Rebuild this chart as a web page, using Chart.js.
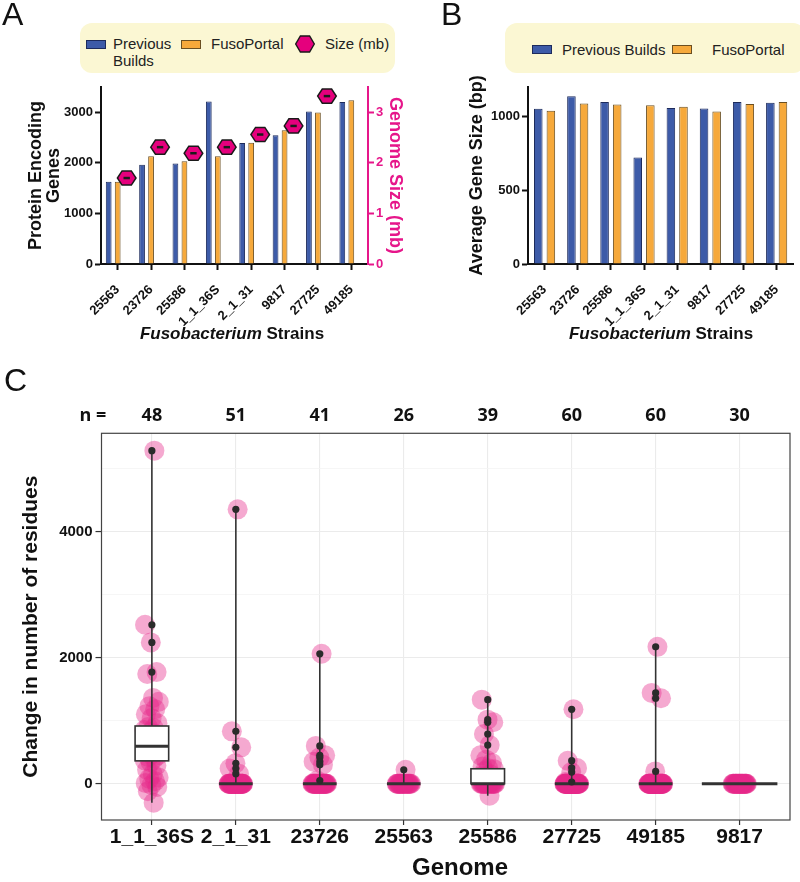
<!DOCTYPE html>
<html>
<head>
<meta charset="utf-8">
<script src="https://cdn.jsdelivr.net/npm/chart.js@4.4.1/dist/chart.umd.min.js"></script>
<style>
body { margin:0; background:#fff; width:800px; height:882px; position:relative; overflow:hidden; font-family:"Liberation Sans", Arial, sans-serif; }
canvas { position:absolute; }
.abs { position:absolute; }
.letter { font-size:32px; line-height:1; color:#111; }
.legend { background:#fbf7d3; border-radius:12px; }
.sw { position:absolute; width:20px; height:9px; box-sizing:border-box; border:1px solid; }
.lt { position:absolute; font-size:15px; line-height:17px; color:#222; white-space:nowrap; }
.xt { position:absolute; font-size:17px; font-weight:bold; line-height:20px; text-align:center; width:300px; color:#111; }
</style>
</head>
<body>
<canvas id="chartA" width="410" height="330" style="left:0;top:0"></canvas>
<canvas id="chartB" width="400" height="330" style="left:400px;top:0"></canvas>
<canvas id="chartC" width="800" height="552" style="left:0;top:330px"></canvas>

<div class="abs letter" style="left:2px;top:-2px">A</div>
<div class="abs letter" style="left:441px;top:-2px">B</div>
<div class="abs letter" style="left:4px;top:364px">C</div>

<!-- legend A -->
<div class="abs legend" style="left:80px;top:23px;width:315px;height:50px"></div>
<div class="sw" style="left:86px;top:39.5px;background:#3d5ba8;border-color:#1d2b5c"></div>
<div class="lt" style="left:113px;top:35px">Previous<br>Builds</div>
<div class="sw" style="left:181px;top:39.5px;background:#f6a93b;border-color:#6a4f22"></div>
<div class="lt" style="left:211px;top:35px">FusoPortal</div>
<svg class="abs" style="left:295px;top:35px" width="20" height="18">
  <polygon points="19.3,9 14.6,17 5.4,17 0.7,9 5.4,1 14.6,1" fill="#e5007d" stroke="#1a1a1a" stroke-width="1.4"/>
</svg>
<div class="lt" style="left:325px;top:35px">Size (mb)</div>

<!-- legend B -->
<div class="abs legend" style="left:505px;top:23px;width:300px;height:50px"></div>
<div class="sw" style="left:532px;top:44.5px;background:#3d5ba8;border-color:#1d2b5c"></div>
<div class="lt" style="left:562px;top:40.5px">Previous Builds</div>
<div class="sw" style="left:672px;top:44.5px;background:#f6a93b;border-color:#6a4f22"></div>
<div class="lt" style="left:712px;top:40.5px">FusoPortal</div>

<div class="xt" style="left:82px;top:324px"><i>Fusobacterium</i> Strains</div>
<div class="xt" style="left:511px;top:324px"><i>Fusobacterium</i> Strains</div>

<script>
// ---- panel A / B data ----
var strains = ['25563', '23726', '25586', '1_1_36S', '2_1_31', '9817', '27725', '49185'];
var proteinPrev = [1625, 1965, 1985, 3215, 2393, 2545, 3018, 3202];
var proteinFuso = [1625, 2130, 2030, 2130, 2400, 2643, 2998, 3240];
var genomeSizeMb = [1.70, 2.31, 2.19, 2.31, 2.56, 2.73, 3.32, null];
var geneSizePrev = [1052, 1138, 1098, 722, 1057, 1055, 1098, 1093];
var geneSizeFuso = [1039, 1088, 1082, 1077, 1066, 1034, 1084, 1098];
var ticksProtein = [0, 1000, 2000, 3000];
var ticksSize = [0, 1, 2, 3];
var ticksGeneSize = [0, 500, 1000];

// ---- panel C data (change in number of residues per gene) ----
var genomes = ['1_1_36S', '2_1_31', '23726', '25563', '25586', '27725', '49185', '9817'];
var res_1_1_36S = [-300, -120, -50, -20, 10, 40, 80, 100, 150, 220, 290, 340,
  370, 400, 420, 450, 470, 500, 520, 540, 555, 570, 580, 585,
  600, 620, 650, 680, 700, 730, 760, 790, 820, 850, 880, 900,
  960, 1040, 1100, 1180, 1230, 1300, 1360, 1740, 1770, 2240, 2520, 5280];
var res_2_1_31 = [4350, 830, 577, 323, 240, 159,
  0,0,0,0,0,0,0,0,0,0,0,0,0,0,0, 0,0,0,0,0,0,0,0,0,0,0,0,0,0,0, 0,0,0,0,0,0,0,0,0,0,0,0,0,0,0];
var res_23726 = [2060, 600, 450, 415, 350, 300, 50,
  0,0,0,0,0,0,0,0,0,0,0,0,0,0,0,0,0, 0,0,0,0,0,0,0,0,0,0,0,0,0,0,0,0,0];
var res_25563 = [220, 0,0,0,0,0,0,0,0,0,0,0,0,0, 0,0,0,0,0,0,0,0,0,0,0,0];
var res_25586 = [-190, 0,0,0,0,0,0,0,0,0,0, 0,0,0,0,0,0,0,0,0,0,
  20, 40, 60, 80, 120, 150, 200, 230, 245, 275, 330, 381, 450, 612, 788, 974, 1016, 1333];
var res_27725 = [1180, 365, 250, 185, 27,
  0,0,0,0,0,0,0,0,0,0,0, 0,0,0,0,0,0,0,0,0,0,0, 0,0,0,0,0,0,0,0,0,0,0,
  0,0,0,0,0,0,0,0,0,0,0, 0,0,0,0,0,0,0,0,0,0,0];
var res_49185 = [2170, 1440, 1355, 195,
  0,0,0,0,0,0,0,0,0,0,0,0,0,0, 0,0,0,0,0,0,0,0,0,0,0,0,0,0,
  0,0,0,0,0,0,0,0,0,0,0,0,0,0, 0,0,0,0,0,0,0,0,0,0,0,0,0,0];
var res_9817 = [0,0,0,0,0,0,0,0,0,0,0,0,0,0,0, 0,0,0,0,0,0,0,0,0,0,0,0,0,0,0];
var residues = [res_1_1_36S, res_2_1_31, res_23726, res_25563, res_25586, res_27725, res_49185, res_9817];
var ticksResidues = [0, 2000, 4000];
var minorResidues = [1000, 3000, 5000];

var BLUE = '#3d5ba8', BLUE_EDGE = '#1d2b5c';
var ORANGE = '#f6a93b', ORANGE_EDGE = '#6a4f22';
var PINK = '#e6168a';
var FONT = '"Liberation Sans", Arial, sans-serif';

// hexagon used for the genome size markers
function drawHex(ctx, x, y, r) {
  ctx.save();
  ctx.beginPath();
  for (var k = 0; k < 6; k++) {
    var a = Math.PI / 3 * k;
    var px = x + r * Math.cos(a), py = y + r * 0.88 * Math.sin(a);
    if (k === 0) ctx.moveTo(px, py); else ctx.lineTo(px, py);
  }
  ctx.closePath();
  ctx.fillStyle = '#e5007d';
  ctx.fill();
  ctx.lineWidth = 1.5;
  ctx.strokeStyle = '#1a1a1a';
  ctx.stroke();
  ctx.beginPath();
  ctx.moveTo(x - 3.2, y); ctx.lineTo(x + 3.2, y);
  ctx.lineWidth = 2.5;
  ctx.stroke();
  ctx.restore();
}

var hexPlugin = {
  id: 'hexPoints',
  afterDatasetsDraw: function(chart) {
    var meta = chart.getDatasetMeta(2);
    meta.data.forEach(function(bar, i) {
      if (genomeSizeMb[i] == null) return;
      drawHex(chart.ctx, bar.x, bar.y, 9.3);
    });
  }
};

function useTicks(list) {
  return function(scale) {
    scale.ticks = list.map(function(v) { return { value: v }; });
  };
}

function plain(v) { return String(v); }

function axisLine(color) {
  return { display: true, color: color, width: 2 };
}

// ---------------- panel A ----------------
new Chart(document.getElementById('chartA'), {
  type: 'bar',
  data: {
    labels: strains,
    datasets: [
      { label: 'Previous Builds', data: proteinPrev, backgroundColor: BLUE, borderColor: BLUE_EDGE, borderWidth: 1, yAxisID: 'y' },
      { label: 'FusoPortal', data: proteinFuso, backgroundColor: ORANGE, borderColor: ORANGE_EDGE, borderWidth: 1, yAxisID: 'y' },
      { label: 'Size (mb)', data: genomeSizeMb, backgroundColor: 'rgba(0,0,0,0)', borderWidth: 0, yAxisID: 'y1' }
    ]
  },
  options: {
    responsive: false,
    animation: false,
    layout: { padding: { left: 20, top: 87, right: 0, bottom: 0 } },
    datasets: { bar: { categoryPercentage: 0.81, barPercentage: 0.64 } },
    plugins: { legend: { display: false }, tooltip: { enabled: false } },
    scales: {
      x: {
        afterFit: function(s) { s.height = 66; },
        grid: { drawOnChartArea: false, offset: false, tickLength: 6, tickWidth: 2, tickColor: '#111' },
        border: axisLine('#111'),
        ticks: { autoSkip: false, minRotation: 45, maxRotation: 45, padding: 12, color: '#111', font: { family: FONT, size: 13, weight: 'bold' } }
      },
      y: {
        min: 0, max: 3500,
        afterFit: function(s) { s.width = 81; },
        afterBuildTicks: useTicks(ticksProtein),
        grid: { drawOnChartArea: false, tickLength: 6, tickWidth: 2, tickColor: '#111' },
        border: axisLine('#111'),
        ticks: { autoSkip: false, padding: 2, color: '#111', callback: plain, font: { family: FONT, size: 13, weight: 'bold' } },
        title: { display: true, text: ['Protein Encoding', 'Genes'], color: '#111', padding: { top: 7 },
                 font: { family: FONT, size: 18, weight: 'bold', lineHeight: 1.0 } }
      },
      y1: {
        position: 'right', min: 0, max: 3.5,
        afterFit: function(s) { s.width = 42; },
        afterBuildTicks: useTicks(ticksSize),
        grid: { drawOnChartArea: false, tickLength: 6, tickWidth: 2, tickColor: PINK },
        border: axisLine(PINK),
        ticks: { autoSkip: false, padding: 2, color: PINK, callback: plain, font: { family: FONT, size: 13, weight: 'bold' } },
        title: { display: true, text: 'Genome Size (mb)', color: PINK, padding: { top: 6 },
                 font: { family: FONT, size: 18, weight: 'bold', lineHeight: 1.0 } }
      }
    }
  },
  plugins: [hexPlugin]
});

// ---------------- panel B ----------------
new Chart(document.getElementById('chartB'), {
  type: 'bar',
  data: {
    labels: strains,
    datasets: [
      { label: 'Previous Builds', data: geneSizePrev, backgroundColor: BLUE, borderColor: BLUE_EDGE, borderWidth: 1 },
      { label: 'FusoPortal', data: geneSizeFuso, backgroundColor: ORANGE, borderColor: ORANGE_EDGE, borderWidth: 1 }
    ]
  },
  options: {
    responsive: false,
    animation: false,
    layout: { padding: { left: 60, top: 87, right: 5, bottom: 0 } },
    datasets: { bar: { categoryPercentage: 0.76, barPercentage: 0.68 } },
    plugins: { legend: { display: false }, tooltip: { enabled: false } },
    scales: {
      x: {
        afterFit: function(s) { s.height = 66; },
        grid: { drawOnChartArea: false, offset: false, tickLength: 6, tickWidth: 2, tickColor: '#111' },
        border: axisLine('#111'),
        ticks: { autoSkip: false, minRotation: 45, maxRotation: 45, padding: 12, color: '#111', font: { family: FONT, size: 13, weight: 'bold' } }
      },
      y: {
        min: 0, max: 1200,
        afterFit: function(s) { s.width = 68; },
        afterBuildTicks: useTicks(ticksGeneSize),
        grid: { drawOnChartArea: false, tickLength: 6, tickWidth: 2, tickColor: '#111' },
        border: axisLine('#111'),
        ticks: { autoSkip: false, padding: 2, color: '#111', callback: plain, font: { family: FONT, size: 13, weight: 'bold' } },
        title: { display: true, text: 'Average Gene Size (bp)', color: '#111', padding: { top: 8 },
                 font: { family: FONT, size: 18, weight: 'bold', lineHeight: 1.0 } }
      }
    }
  }
});

// ---------------- panel C ----------------
function quantile(sorted, p) {
  var h = (sorted.length - 1) * p, lo = Math.floor(h);
  var hi = Math.min(lo + 1, sorted.length - 1);
  return sorted[lo] + (h - lo) * (sorted[hi] - sorted[lo]);
}

var boxStats = residues.map(function(vals) {
  var s = vals.slice().sort(function(a, b) { return a - b; });
  var q1 = quantile(s, 0.25), q3 = quantile(s, 0.75), iqr = q3 - q1;
  return { min: s[0], max: s[s.length - 1], q1: q1, med: quantile(s, 0.5), q3: q3,
           lowFence: q1 - 1.5 * iqr, highFence: q3 + 1.5 * iqr };
});

// spread points sideways around their genome (deterministic jitter)
var JITTER = 0.09;
function jitter(k) {
  var f = ((k + 1) * 0.6180339887) % 1;
  return (f * 2 - 1) * JITTER;
}

var jitterPoints = [];
var outlierPoints = [];
residues.forEach(function(vals, i) {
  vals.forEach(function(v, k) {
    jitterPoints.push({ x: i + jitter(k), y: v });
    if (v < boxStats[i].lowFence || v > boxStats[i].highFence) outlierPoints.push({ x: i, y: v });
  });
});

var boxPlugin = {
  id: 'boxes',
  afterDatasetDraw: function(chart, args) {
    if (args.index !== 0) return;
    var ctx = chart.ctx, xs = chart.scales.x, ys = chart.scales.y;
    var unit = xs.getPixelForValue(1) - xs.getPixelForValue(0);
    ctx.save();
    ctx.strokeStyle = '#333';
    boxStats.forEach(function(s, i) {
      var cx = xs.getPixelForValue(i);
      var hw = (s.min === s.max ? 0.45 : 0.2) * unit;
      ctx.lineWidth = 1.6;
      ctx.beginPath();
      ctx.moveTo(cx, ys.getPixelForValue(s.min));
      ctx.lineTo(cx, ys.getPixelForValue(s.max));
      ctx.stroke();
      var top = ys.getPixelForValue(s.q3), bot = ys.getPixelForValue(s.q1);
      if (s.q3 > s.q1) {
        ctx.fillStyle = '#fff';
        ctx.fillRect(cx - hw, top, 2 * hw, bot - top);
        ctx.strokeRect(cx - hw, top, 2 * hw, bot - top);
      }
      var my = ys.getPixelForValue(s.med);
      ctx.lineWidth = 3;
      ctx.beginPath();
      ctx.moveTo(cx - hw, my);
      ctx.lineTo(cx + hw, my);
      ctx.stroke();
    });
    ctx.restore();
  },
  afterDraw: function(chart) {
    var ctx = chart.ctx, a = chart.chartArea, xs = chart.scales.x;
    ctx.save();
    ctx.strokeStyle = '#444';
    ctx.lineWidth = 1.2;
    ctx.strokeRect(a.left, a.top, a.right - a.left, a.bottom - a.top);
    ctx.fillStyle = '#111';
    ctx.textBaseline = 'middle';
    ctx.textAlign = 'center';
    ctx.font = 'bold 18px "Open Sans", sans-serif';
    ctx.fillText('n =', 93, 86);
    residues.forEach(function(vals, i) {
      ctx.fillText(String(vals.length), xs.getPixelForValue(i), 86);
    });
    ctx.font = 'bold 24px "Liberation Sans Narrow", "Liberation Sans", sans-serif';
    ctx.fillText('Genome', 460, 538);
    ctx.restore();
  }
};

function isMajor(c) {
  return c.tick && ticksResidues.indexOf(c.tick.value) >= 0;
}

new Chart(document.getElementById('chartC'), {
  type: 'scatter',
  data: {
    datasets: [
      { label: 'genes', data: jitterPoints, order: 2, pointRadius: 10, pointHoverRadius: 10,
        backgroundColor: 'rgba(231,41,138,0.4)', borderWidth: 0 },
      { label: 'outliers', data: outlierPoints, order: 1, pointRadius: 3.6, pointHoverRadius: 3.6,
        backgroundColor: '#2b2b2b', borderWidth: 0 }
    ]
  },
  options: {
    responsive: false,
    animation: false,
    layout: { padding: { left: 10, top: 103.3, right: 8.3, bottom: 0 } },
    plugins: { legend: { display: false }, tooltip: { enabled: false } },
    scales: {
      x: {
        type: 'linear', min: -0.6, max: 7.6,
        afterFit: function(s) { s.height = 62; },
        afterBuildTicks: function(s) { s.ticks = genomes.map(function(g, i) { return { value: i }; }); },
        grid: { color: '#ebebeb', lineWidth: 1.1, tickLength: 5, tickColor: '#333', tickWidth: 1.2 },
        border: { display: false },
        ticks: { autoSkip: false, maxRotation: 0, padding: 0, color: '#111',
                 callback: function(v) { return genomes[v]; },
                 font: { family: '"Liberation Sans Narrow", "Liberation Sans", sans-serif', size: 21, weight: 'bold', lineHeight: 1.2 } }
      },
      y: {
        min: -575, max: 5555,
        afterFit: function(s) { s.width = 91.5; },
        afterBuildTicks: useTicks(ticksResidues.concat(minorResidues)),
        grid: {
          color: function(c) { return isMajor(c) ? '#ebebeb' : '#f4f4f4'; },
          lineWidth: function(c) { return isMajor(c) ? 1.1 : 0.8; },
          tickLength: 6, tickWidth: 1.2,
          tickColor: function(c) { return isMajor(c) ? '#333' : 'rgba(0,0,0,0)'; }
        },
        border: { display: false },
        ticks: { autoSkip: false, padding: 3, color: '#111',
                 callback: function(v) { return ticksResidues.indexOf(v) >= 0 ? String(v) : ''; },
                 font: { family: FONT, size: 15, weight: 'bold' } },
        title: { display: true, text: 'Change in number of residues', color: '#111', padding: { top: 9 },
                 font: { family: FONT, size: 21, weight: 'bold' } }
      }
    }
  },
  plugins: [boxPlugin]
});
</script>
</body>
</html>
